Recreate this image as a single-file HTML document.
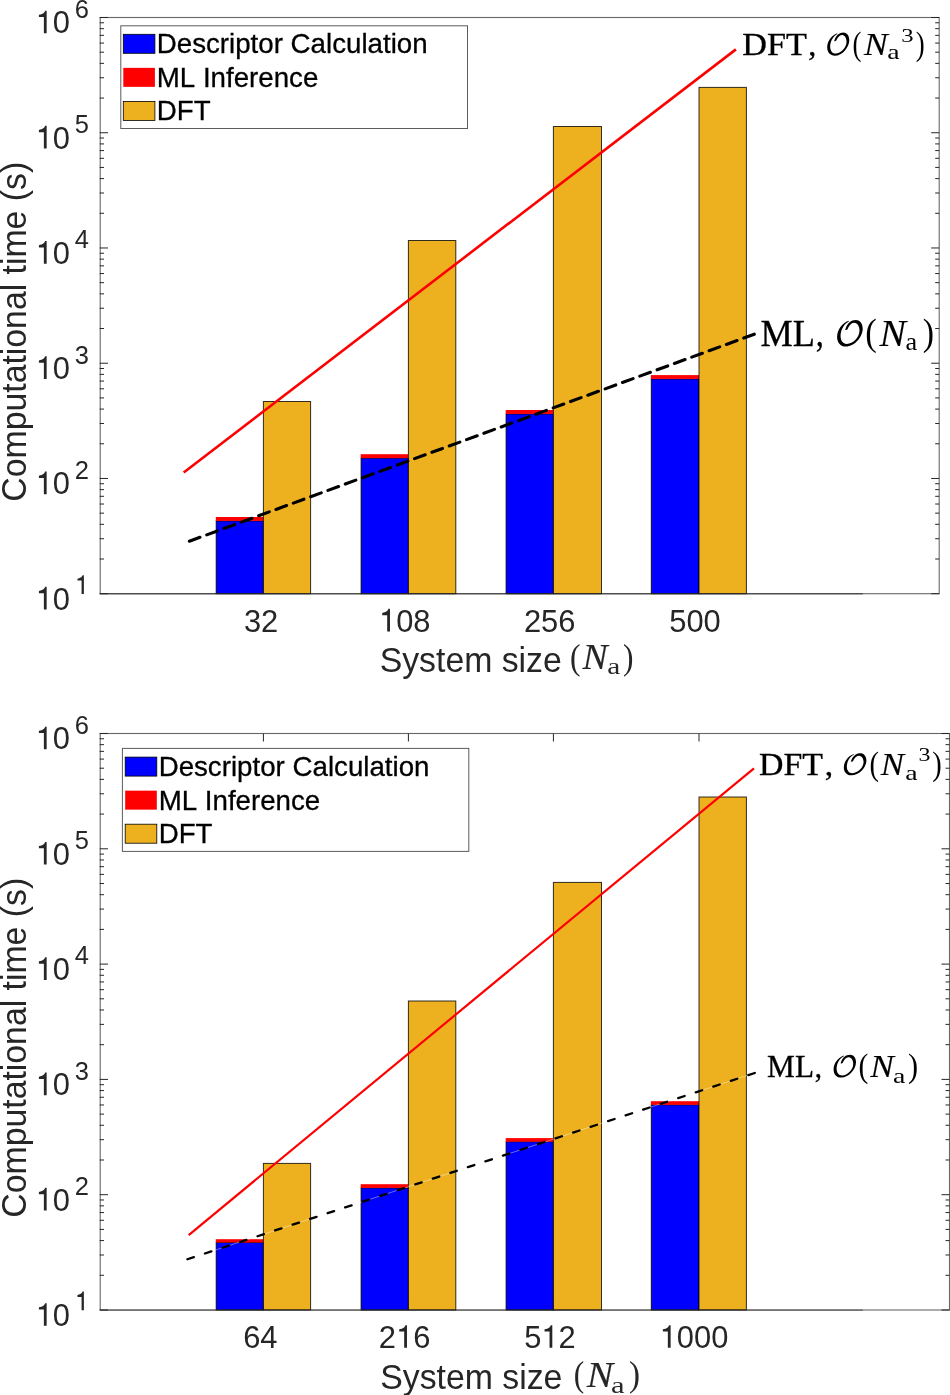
<!DOCTYPE html><html><head><meta charset="utf-8"><style>html,body{margin:0;padding:0;background:#fff;width:950px;height:1395px;overflow:hidden}text{font-kerning:none}</style></head><body><svg width="950" height="1395" viewBox="0 0 950 1395" style="position:absolute;left:0;top:0;will-change:transform">
<rect width="950" height="1395" fill="#fff"/>
<path d="M99.70 593.70h8.3M939.20 593.70h-8M99.70 559.01h4.3M939.20 559.01h-4M99.70 538.72h4.3M939.20 538.72h-4M99.70 524.32h4.3M939.20 524.32h-4M99.70 513.15h4.3M939.20 513.15h-4M99.70 504.03h4.3M939.20 504.03h-4M99.70 496.31h4.3M939.20 496.31h-4M99.70 489.63h4.3M939.20 489.63h-4M99.70 483.73h4.3M939.20 483.73h-4M99.70 478.46h8.3M939.20 478.46h-8M99.70 443.77h4.3M939.20 443.77h-4M99.70 423.48h4.3M939.20 423.48h-4M99.70 409.08h4.3M939.20 409.08h-4M99.70 397.91h4.3M939.20 397.91h-4M99.70 388.79h4.3M939.20 388.79h-4M99.70 381.07h4.3M939.20 381.07h-4M99.70 374.39h4.3M939.20 374.39h-4M99.70 368.49h4.3M939.20 368.49h-4M99.70 363.22h8.3M939.20 363.22h-8M99.70 328.53h4.3M939.20 328.53h-4M99.70 308.24h4.3M939.20 308.24h-4M99.70 293.84h4.3M939.20 293.84h-4M99.70 282.67h4.3M939.20 282.67h-4M99.70 273.55h4.3M939.20 273.55h-4M99.70 265.83h4.3M939.20 265.83h-4M99.70 259.15h4.3M939.20 259.15h-4M99.70 253.25h4.3M939.20 253.25h-4M99.70 247.98h8.3M939.20 247.98h-8M99.70 213.29h4.3M939.20 213.29h-4M99.70 193.00h4.3M939.20 193.00h-4M99.70 178.60h4.3M939.20 178.60h-4M99.70 167.43h4.3M939.20 167.43h-4M99.70 158.31h4.3M939.20 158.31h-4M99.70 150.59h4.3M939.20 150.59h-4M99.70 143.91h4.3M939.20 143.91h-4M99.70 138.01h4.3M939.20 138.01h-4M99.70 132.74h8.3M939.20 132.74h-8M99.70 98.05h4.3M939.20 98.05h-4M99.70 77.76h4.3M939.20 77.76h-4M99.70 63.36h4.3M939.20 63.36h-4M99.70 52.19h4.3M939.20 52.19h-4M99.70 43.07h4.3M939.20 43.07h-4M99.70 35.35h4.3M939.20 35.35h-4M99.70 28.67h4.3M939.20 28.67h-4M99.70 22.77h4.3M939.20 22.77h-4M99.70 17.50h8.3M939.20 17.50h-8" stroke="#262626" stroke-width="1" fill="none"/>
<rect x="216.2" y="520.9" width="47.20" height="72.80" fill="#0000ff" stroke="#000" stroke-width="1.0" stroke-opacity="0.85"/>
<rect x="215.80" y="517.0" width="47.60" height="3.90" fill="#ff0000"/>
<rect x="263.4" y="401.5" width="47.20" height="192.20" fill="#edb120" stroke="#000" stroke-width="1.0" stroke-opacity="0.8"/>
<rect x="361.1" y="458.1" width="47.30" height="135.60" fill="#0000ff" stroke="#000" stroke-width="1.0" stroke-opacity="0.85"/>
<rect x="360.70" y="454.2" width="47.70" height="3.90" fill="#ff0000"/>
<rect x="408.4" y="240.5" width="47.40" height="353.20" fill="#edb120" stroke="#000" stroke-width="1.0" stroke-opacity="0.8"/>
<rect x="506.1" y="413.9" width="47.30" height="179.80" fill="#0000ff" stroke="#000" stroke-width="1.0" stroke-opacity="0.85"/>
<rect x="505.70" y="410.0" width="47.70" height="3.90" fill="#ff0000"/>
<rect x="553.4" y="126.5" width="48.10" height="467.20" fill="#edb120" stroke="#000" stroke-width="1.0" stroke-opacity="0.8"/>
<rect x="651.3" y="378.9" width="47.70" height="214.80" fill="#0000ff" stroke="#000" stroke-width="1.0" stroke-opacity="0.85"/>
<rect x="650.90" y="375.1" width="48.10" height="3.80" fill="#ff0000"/>
<rect x="699.0" y="87.4" width="47.40" height="506.30" fill="#edb120" stroke="#000" stroke-width="1.0" stroke-opacity="0.8"/>
<rect x="100.2" y="17.5" width="839.00" height="576.20" fill="none" stroke="#262626" stroke-width="1.1" opacity="0.7"/>
<line x1="99.7" y1="593.8000000000001" x2="862.9" y2="593.8000000000001" stroke="#262626" stroke-width="1.4" opacity="0.55"/>
<line x1="183.7" y1="472.5" x2="735.9" y2="49.4" stroke="#ff0000" stroke-width="2.6"/>
<line x1="189.36" y1="541.18" x2="754.3" y2="334.2" stroke="#000" stroke-width="3.1" stroke-dasharray="11.3 7.15" stroke-linecap="round"/>
<path d="M43.87 609.50L46.66 609.50L46.66 586.83L45.08 586.83C44.62 588.71 43.07 590.31 38.90 590.95L38.90 593.25L43.87 593.25Z" fill="#262626"/>
<text transform="translate(52.84 609.50) scale(1 1.035)" font-family="'Liberation Sans', sans-serif" font-size="30.9" fill="#262626">0</text>
<path d="M81.58 594.00L83.88 594.00L83.88 575.29L82.58 575.29C82.19 576.84 80.92 578.16 77.48 578.69L77.48 580.59L81.58 580.59Z" fill="#262626"/>
<path d="M43.87 494.26L46.66 494.26L46.66 471.59L45.08 471.59C44.62 473.47 43.07 475.07 38.90 475.71L38.90 478.01L43.87 478.01Z" fill="#262626"/>
<text transform="translate(52.84 494.26) scale(1 1.035)" font-family="'Liberation Sans', sans-serif" font-size="30.9" fill="#262626">0</text>
<text transform="translate(74.80 478.76) scale(1 1.035)" font-family="'Liberation Sans', sans-serif" font-size="25.5" fill="#262626">2</text>
<path d="M43.87 379.02L46.66 379.02L46.66 356.35L45.08 356.35C44.62 358.23 43.07 359.83 38.90 360.47L38.90 362.77L43.87 362.77Z" fill="#262626"/>
<text transform="translate(52.84 379.02) scale(1 1.035)" font-family="'Liberation Sans', sans-serif" font-size="30.9" fill="#262626">0</text>
<text transform="translate(74.80 363.52) scale(1 1.035)" font-family="'Liberation Sans', sans-serif" font-size="25.5" fill="#262626">3</text>
<path d="M43.87 263.78L46.66 263.78L46.66 241.11L45.08 241.11C44.62 242.99 43.07 244.59 38.90 245.23L38.90 247.53L43.87 247.53Z" fill="#262626"/>
<text transform="translate(52.84 263.78) scale(1 1.035)" font-family="'Liberation Sans', sans-serif" font-size="30.9" fill="#262626">0</text>
<text transform="translate(74.80 248.28) scale(1 1.035)" font-family="'Liberation Sans', sans-serif" font-size="25.5" fill="#262626">4</text>
<path d="M43.87 148.54L46.66 148.54L46.66 125.87L45.08 125.87C44.62 127.75 43.07 129.35 38.90 129.99L38.90 132.29L43.87 132.29Z" fill="#262626"/>
<text transform="translate(52.84 148.54) scale(1 1.035)" font-family="'Liberation Sans', sans-serif" font-size="30.9" fill="#262626">0</text>
<text transform="translate(74.80 133.04) scale(1 1.035)" font-family="'Liberation Sans', sans-serif" font-size="25.5" fill="#262626">5</text>
<path d="M43.87 33.30L46.66 33.30L46.66 10.63L45.08 10.63C44.62 12.51 43.07 14.11 38.90 14.75L38.90 17.05L43.87 17.05Z" fill="#262626"/>
<text transform="translate(52.84 33.30) scale(1 1.035)" font-family="'Liberation Sans', sans-serif" font-size="30.9" fill="#262626">0</text>
<text transform="translate(74.80 17.80) scale(1 1.035)" font-family="'Liberation Sans', sans-serif" font-size="25.5" fill="#262626">6</text>
<text transform="translate(243.90 631.50) scale(1 1.035)" font-family="'Liberation Sans', sans-serif" font-size="30.9" fill="#262626">3</text>
<text transform="translate(261.09 631.50) scale(1 1.035)" font-family="'Liberation Sans', sans-serif" font-size="30.9" fill="#262626">2</text>
<path d="M387.19 631.50L389.97 631.50L389.97 608.83L388.40 608.83C387.93 610.71 386.39 612.31 382.22 612.95L382.22 615.25L387.19 615.25Z" fill="#262626"/>
<text transform="translate(396.15 631.50) scale(1 1.035)" font-family="'Liberation Sans', sans-serif" font-size="30.9" fill="#262626">0</text>
<text transform="translate(413.33 631.50) scale(1 1.035)" font-family="'Liberation Sans', sans-serif" font-size="30.9" fill="#262626">8</text>
<text transform="translate(523.89 631.50) scale(1 1.035)" font-family="'Liberation Sans', sans-serif" font-size="30.9" fill="#262626">2</text>
<text transform="translate(541.07 631.50) scale(1 1.035)" font-family="'Liberation Sans', sans-serif" font-size="30.9" fill="#262626">5</text>
<text transform="translate(558.25 631.50) scale(1 1.035)" font-family="'Liberation Sans', sans-serif" font-size="30.9" fill="#262626">6</text>
<text transform="translate(669.21 631.50) scale(1 1.035)" font-family="'Liberation Sans', sans-serif" font-size="30.9" fill="#262626">5</text>
<text transform="translate(686.39 631.50) scale(1 1.035)" font-family="'Liberation Sans', sans-serif" font-size="30.9" fill="#262626">0</text>
<text transform="translate(703.57 631.50) scale(1 1.035)" font-family="'Liberation Sans', sans-serif" font-size="30.9" fill="#262626">0</text>
<text transform="translate(25.9 331.75) rotate(-90) scale(1 1.05)" text-anchor="middle" font-family="'Liberation Sans', sans-serif" font-size="33.8" fill="#262626">Computational time (s)</text>
<path d="M99.70 1310.00h8.3M949.50 1310.00h-8M99.70 1275.29h4.3M949.50 1275.29h-4M99.70 1254.99h4.3M949.50 1254.99h-4M99.70 1240.58h4.3M949.50 1240.58h-4M99.70 1229.41h4.3M949.50 1229.41h-4M99.70 1220.28h4.3M949.50 1220.28h-4M99.70 1212.56h4.3M949.50 1212.56h-4M99.70 1205.87h4.3M949.50 1205.87h-4M99.70 1199.98h4.3M949.50 1199.98h-4M99.70 1194.70h8.3M949.50 1194.70h-8M99.70 1159.99h4.3M949.50 1159.99h-4M99.70 1139.69h4.3M949.50 1139.69h-4M99.70 1125.28h4.3M949.50 1125.28h-4M99.70 1114.11h4.3M949.50 1114.11h-4M99.70 1104.98h4.3M949.50 1104.98h-4M99.70 1097.26h4.3M949.50 1097.26h-4M99.70 1090.57h4.3M949.50 1090.57h-4M99.70 1084.68h4.3M949.50 1084.68h-4M99.70 1079.40h8.3M949.50 1079.40h-8M99.70 1044.69h4.3M949.50 1044.69h-4M99.70 1024.39h4.3M949.50 1024.39h-4M99.70 1009.98h4.3M949.50 1009.98h-4M99.70 998.81h4.3M949.50 998.81h-4M99.70 989.68h4.3M949.50 989.68h-4M99.70 981.96h4.3M949.50 981.96h-4M99.70 975.27h4.3M949.50 975.27h-4M99.70 969.38h4.3M949.50 969.38h-4M99.70 964.10h8.3M949.50 964.10h-8M99.70 929.39h4.3M949.50 929.39h-4M99.70 909.09h4.3M949.50 909.09h-4M99.70 894.68h4.3M949.50 894.68h-4M99.70 883.51h4.3M949.50 883.51h-4M99.70 874.38h4.3M949.50 874.38h-4M99.70 866.66h4.3M949.50 866.66h-4M99.70 859.97h4.3M949.50 859.97h-4M99.70 854.08h4.3M949.50 854.08h-4M99.70 848.80h8.3M949.50 848.80h-8M99.70 814.09h4.3M949.50 814.09h-4M99.70 793.79h4.3M949.50 793.79h-4M99.70 779.38h4.3M949.50 779.38h-4M99.70 768.21h4.3M949.50 768.21h-4M99.70 759.08h4.3M949.50 759.08h-4M99.70 751.36h4.3M949.50 751.36h-4M99.70 744.67h4.3M949.50 744.67h-4M99.70 738.78h4.3M949.50 738.78h-4M99.70 733.50h8.3M949.50 733.50h-8M263.40 733.50v8M263.40 1310.00v-8M408.40 733.50v8M408.40 1310.00v-8M553.40 733.50v8M553.40 1310.00v-8M699.00 733.50v8M699.00 1310.00v-8" stroke="#262626" stroke-width="1" fill="none"/>
<rect x="216.2" y="1242.5" width="47.20" height="67.50" fill="#0000ff" stroke="#000" stroke-width="1.0" stroke-opacity="0.85"/>
<rect x="215.80" y="1239.2" width="47.60" height="3.30" fill="#ff0000"/>
<rect x="263.4" y="1163.4" width="47.20" height="146.60" fill="#edb120" stroke="#000" stroke-width="1.0" stroke-opacity="0.8"/>
<rect x="361.1" y="1187.9" width="47.30" height="122.10" fill="#0000ff" stroke="#000" stroke-width="1.0" stroke-opacity="0.85"/>
<rect x="360.70" y="1184.2" width="47.70" height="3.70" fill="#ff0000"/>
<rect x="408.4" y="1001.0" width="47.40" height="309.00" fill="#edb120" stroke="#000" stroke-width="1.0" stroke-opacity="0.8"/>
<rect x="506.1" y="1141.7" width="47.30" height="168.30" fill="#0000ff" stroke="#000" stroke-width="1.0" stroke-opacity="0.85"/>
<rect x="505.70" y="1138.1" width="47.70" height="3.60" fill="#ff0000"/>
<rect x="553.4" y="882.4" width="48.10" height="427.60" fill="#edb120" stroke="#000" stroke-width="1.0" stroke-opacity="0.8"/>
<rect x="651.3" y="1104.8" width="47.70" height="205.20" fill="#0000ff" stroke="#000" stroke-width="1.0" stroke-opacity="0.85"/>
<rect x="650.90" y="1101.2" width="48.10" height="3.60" fill="#ff0000"/>
<rect x="699.0" y="797.0" width="47.40" height="513.00" fill="#edb120" stroke="#000" stroke-width="1.0" stroke-opacity="0.8"/>
<rect x="100.2" y="733.5" width="849.30" height="576.50" fill="none" stroke="#262626" stroke-width="1.1" opacity="0.7"/>
<line x1="99.7" y1="1310.1" x2="862.9" y2="1310.1" stroke="#262626" stroke-width="1.4" opacity="0.55"/>
<line x1="188.7" y1="1235.1" x2="754.0" y2="768.3" stroke="#ff0000" stroke-width="2.2"/>
<line x1="187.4" y1="1259.24" x2="754.8" y2="1072.97" stroke="#fff" stroke-width="0.8" opacity="0.5"/>
<line x1="187.4" y1="1259.24" x2="754.8" y2="1072.97" stroke="#000" stroke-width="2.3" stroke-dasharray="6.8 11.65" stroke-linecap="round"/>
<path d="M43.87 1325.80L46.66 1325.80L46.66 1303.13L45.08 1303.13C44.62 1305.01 43.07 1306.61 38.90 1307.25L38.90 1309.55L43.87 1309.55Z" fill="#262626"/>
<text transform="translate(52.84 1325.80) scale(1 1.035)" font-family="'Liberation Sans', sans-serif" font-size="30.9" fill="#262626">0</text>
<path d="M81.58 1310.30L83.88 1310.30L83.88 1291.59L82.58 1291.59C82.19 1293.14 80.92 1294.46 77.48 1294.99L77.48 1296.89L81.58 1296.89Z" fill="#262626"/>
<path d="M43.87 1210.50L46.66 1210.50L46.66 1187.83L45.08 1187.83C44.62 1189.71 43.07 1191.31 38.90 1191.95L38.90 1194.25L43.87 1194.25Z" fill="#262626"/>
<text transform="translate(52.84 1210.50) scale(1 1.035)" font-family="'Liberation Sans', sans-serif" font-size="30.9" fill="#262626">0</text>
<text transform="translate(74.80 1195.00) scale(1 1.035)" font-family="'Liberation Sans', sans-serif" font-size="25.5" fill="#262626">2</text>
<path d="M43.87 1095.20L46.66 1095.20L46.66 1072.53L45.08 1072.53C44.62 1074.41 43.07 1076.01 38.90 1076.65L38.90 1078.95L43.87 1078.95Z" fill="#262626"/>
<text transform="translate(52.84 1095.20) scale(1 1.035)" font-family="'Liberation Sans', sans-serif" font-size="30.9" fill="#262626">0</text>
<text transform="translate(74.80 1079.70) scale(1 1.035)" font-family="'Liberation Sans', sans-serif" font-size="25.5" fill="#262626">3</text>
<path d="M43.87 979.90L46.66 979.90L46.66 957.23L45.08 957.23C44.62 959.11 43.07 960.71 38.90 961.35L38.90 963.65L43.87 963.65Z" fill="#262626"/>
<text transform="translate(52.84 979.90) scale(1 1.035)" font-family="'Liberation Sans', sans-serif" font-size="30.9" fill="#262626">0</text>
<text transform="translate(74.80 964.40) scale(1 1.035)" font-family="'Liberation Sans', sans-serif" font-size="25.5" fill="#262626">4</text>
<path d="M43.87 864.60L46.66 864.60L46.66 841.93L45.08 841.93C44.62 843.81 43.07 845.41 38.90 846.05L38.90 848.35L43.87 848.35Z" fill="#262626"/>
<text transform="translate(52.84 864.60) scale(1 1.035)" font-family="'Liberation Sans', sans-serif" font-size="30.9" fill="#262626">0</text>
<text transform="translate(74.80 849.10) scale(1 1.035)" font-family="'Liberation Sans', sans-serif" font-size="25.5" fill="#262626">5</text>
<path d="M43.87 749.30L46.66 749.30L46.66 726.63L45.08 726.63C44.62 728.51 43.07 730.11 38.90 730.75L38.90 733.05L43.87 733.05Z" fill="#262626"/>
<text transform="translate(52.84 749.30) scale(1 1.035)" font-family="'Liberation Sans', sans-serif" font-size="30.9" fill="#262626">0</text>
<text transform="translate(74.80 733.80) scale(1 1.035)" font-family="'Liberation Sans', sans-serif" font-size="25.5" fill="#262626">6</text>
<text transform="translate(243.18 1347.80) scale(1 1.035)" font-family="'Liberation Sans', sans-serif" font-size="30.9" fill="#262626">6</text>
<text transform="translate(260.36 1347.80) scale(1 1.035)" font-family="'Liberation Sans', sans-serif" font-size="30.9" fill="#262626">4</text>
<path d="M404.19 1347.80L406.97 1347.80L406.97 1325.13L405.39 1325.13C404.93 1327.01 403.38 1328.61 399.21 1329.25L399.21 1331.55L404.19 1331.55Z" fill="#262626"/>
<text transform="translate(378.79 1347.80) scale(1 1.035)" font-family="'Liberation Sans', sans-serif" font-size="30.9" fill="#262626">2</text>
<text transform="translate(413.15 1347.80) scale(1 1.035)" font-family="'Liberation Sans', sans-serif" font-size="30.9" fill="#262626">6</text>
<path d="M549.53 1347.80L552.31 1347.80L552.31 1325.13L550.74 1325.13C550.28 1327.01 548.73 1328.61 544.56 1329.25L544.56 1331.55L549.53 1331.55Z" fill="#262626"/>
<text transform="translate(524.13 1347.80) scale(1 1.035)" font-family="'Liberation Sans', sans-serif" font-size="30.9" fill="#262626">5</text>
<text transform="translate(558.49 1347.80) scale(1 1.035)" font-family="'Liberation Sans', sans-serif" font-size="30.9" fill="#262626">2</text>
<path d="M667.84 1347.80L670.62 1347.80L670.62 1325.13L669.04 1325.13C668.58 1327.01 667.04 1328.61 662.86 1329.25L662.86 1331.55L667.84 1331.55Z" fill="#262626"/>
<text transform="translate(676.80 1347.80) scale(1 1.035)" font-family="'Liberation Sans', sans-serif" font-size="30.9" fill="#262626">0</text>
<text transform="translate(693.98 1347.80) scale(1 1.035)" font-family="'Liberation Sans', sans-serif" font-size="30.9" fill="#262626">0</text>
<text transform="translate(711.16 1347.80) scale(1 1.035)" font-family="'Liberation Sans', sans-serif" font-size="30.9" fill="#262626">0</text>
<text transform="translate(25.9 1047.75) rotate(-90) scale(1 1.05)" text-anchor="middle" font-family="'Liberation Sans', sans-serif" font-size="33.8" fill="#262626">Computational time (s)</text>
<text transform="translate(379.67 671.50) scale(1 1.03)" font-family="'Liberation Sans', sans-serif" font-size="33.8" fill="#262626">System size</text>
<text x="569.91" y="668.69" font-family="'Liberation Serif', serif" font-size="35.72" textLength="10.50" lengthAdjust="spacingAndGlyphs" fill="#262626">(</text>
<text x="582.58" y="668.80" font-family="'Liberation Serif', serif" font-size="35.42" font-style="italic" textLength="25.17" lengthAdjust="spacingAndGlyphs" fill="#262626" stroke="#262626" stroke-width="0.15">N</text>
<text x="607.27" y="674.37" font-family="'Liberation Serif', serif" font-size="22.96" textLength="13.03" lengthAdjust="spacingAndGlyphs" fill="#262626">a</text>
<text x="622.98" y="668.69" font-family="'Liberation Serif', serif" font-size="35.72" textLength="10.50" lengthAdjust="spacingAndGlyphs" fill="#262626">)</text>
<text transform="translate(380.27 1388.60) scale(1 1.03)" font-family="'Liberation Sans', sans-serif" font-size="33.8" fill="#262626">System size</text>
<text x="573.71" y="1385.64" font-family="'Liberation Serif', serif" font-size="35.94" textLength="10.50" lengthAdjust="spacingAndGlyphs" fill="#262626">(</text>
<text x="586.79" y="1386.50" font-family="'Liberation Serif', serif" font-size="35.88" font-style="italic" textLength="26.47" lengthAdjust="spacingAndGlyphs" fill="#262626" stroke="#262626" stroke-width="0.15">N</text>
<text x="611.12" y="1393.17" font-family="'Liberation Serif', serif" font-size="22.96" textLength="13.60" lengthAdjust="spacingAndGlyphs" fill="#262626">a</text>
<text x="629.03" y="1385.64" font-family="'Liberation Serif', serif" font-size="35.94" textLength="11.02" lengthAdjust="spacingAndGlyphs" fill="#262626">)</text>
<rect x="120.8" y="25.8" width="346.7" height="102.7" fill="#fff" stroke="#262626" stroke-width="1" stroke-opacity="0.75"/>
<rect x="123.3" y="34.30" width="31.6" height="19" fill="#0000ff" stroke="#000" stroke-width="0.8"/>
<text transform="translate(156.73 53.30) scale(1 1.03)" font-family="'Liberation Sans', sans-serif" font-size="27.7" fill="#000" stroke="#000" stroke-width="0.3">Descriptor Calculation</text>
<rect x="123.3" y="67.85" width="31.6" height="19" fill="#ff0000"/>
<text transform="translate(156.73 86.85) scale(1 1.03)" font-family="'Liberation Sans', sans-serif" font-size="27.7" fill="#000" stroke="#000" stroke-width="0.3">ML Inference</text>
<rect x="123.3" y="101.40" width="31.6" height="19" fill="#edb120" stroke="#000" stroke-width="0.8"/>
<text transform="translate(156.73 120.40) scale(1 1.03)" font-family="'Liberation Sans', sans-serif" font-size="27.7" fill="#000" stroke="#000" stroke-width="0.3">DFT</text>
<rect x="122.4" y="748.4" width="346.4" height="103.0" fill="#fff" stroke="#262626" stroke-width="1" stroke-opacity="0.75"/>
<rect x="125.2" y="757.10" width="31.6" height="19" fill="#0000ff" stroke="#000" stroke-width="0.8"/>
<text transform="translate(158.63 776.10) scale(1 1.03)" font-family="'Liberation Sans', sans-serif" font-size="27.7" fill="#000" stroke="#000" stroke-width="0.3">Descriptor Calculation</text>
<rect x="125.2" y="790.65" width="31.6" height="19" fill="#ff0000"/>
<text transform="translate(158.63 809.65) scale(1 1.03)" font-family="'Liberation Sans', sans-serif" font-size="27.7" fill="#000" stroke="#000" stroke-width="0.3">ML Inference</text>
<rect x="125.2" y="824.20" width="31.6" height="19" fill="#edb120" stroke="#000" stroke-width="0.8"/>
<text transform="translate(158.63 843.20) scale(1 1.03)" font-family="'Liberation Sans', sans-serif" font-size="27.7" fill="#000" stroke="#000" stroke-width="0.3">DFT</text>
<text x="742.22" y="55.00" font-family="'Liberation Serif', serif" font-size="32.52" textLength="64.55" lengthAdjust="spacingAndGlyphs" fill="#000" stroke="#000" stroke-width="0.3">DFT</text>
<text x="808.27" y="55.00" font-family="'Liberation Serif', serif" font-size="32.52" textLength="8.06" lengthAdjust="spacingAndGlyphs" fill="#000" stroke="#000" stroke-width="0.3">,</text>
<path d="M 837.15 33.31 C 831.62 35.28 827.20 41.32 827.20 47.35 C 827.20 52.68 830.52 55.70 834.71 55.70 C 842.67 55.70 849.30 46.88 849.30 40.16 C 849.30 35.28 846.65 32.50 843.33 32.50 C 839.36 32.50 836.04 35.28 834.49 40.16 L 834.16 41.08 C 834.71 41.55 835.82 41.32 836.26 40.62 C 837.59 37.60 839.58 35.05 841.79 35.05 C 844.44 35.05 846.54 37.60 846.54 41.78 C 846.54 47.58 840.90 53.38 835.60 53.50 C 832.06 53.50 830.18 50.60 830.18 46.42 C 830.18 40.62 833.83 35.52 837.37 33.89 Z" fill="#000"/>
<text x="852.42" y="55.01" font-family="'Liberation Serif', serif" font-size="33.3" textLength="8.95" lengthAdjust="spacingAndGlyphs" fill="#000">(</text>
<text x="864.06" y="54.60" font-family="'Liberation Serif', serif" font-size="31.91" font-style="italic" textLength="23.78" lengthAdjust="spacingAndGlyphs" fill="#000" stroke="#000" stroke-width="0.15">N</text>
<text x="887.32" y="59.48" font-family="'Liberation Serif', serif" font-size="21.71" textLength="12.36" lengthAdjust="spacingAndGlyphs" fill="#000">a</text>
<text x="901.22" y="41.62" font-family="'Liberation Serif', serif" font-size="18.15" textLength="12.35" lengthAdjust="spacingAndGlyphs" fill="#000">3</text>
<text x="915.83" y="55.01" font-family="'Liberation Serif', serif" font-size="33.3" textLength="8.95" lengthAdjust="spacingAndGlyphs" fill="#000">)</text>
<text x="760.55" y="345.80" font-family="'Liberation Serif', serif" font-size="37.25" textLength="54.42" lengthAdjust="spacingAndGlyphs" fill="#000" stroke="#000" stroke-width="0.3">ML</text>
<text x="815.77" y="345.80" font-family="'Liberation Serif', serif" font-size="37.25" textLength="8.06" lengthAdjust="spacingAndGlyphs" fill="#000" stroke="#000" stroke-width="0.3">,</text>
<path d="M 848.62 320.83 C 842.22 323.09 837.10 330.01 837.10 336.92 C 837.10 343.04 840.94 346.50 845.80 346.50 C 855.02 346.50 862.70 336.39 862.70 328.68 C 862.70 323.09 859.63 319.90 855.79 319.90 C 851.18 319.90 847.34 323.09 845.55 328.68 L 845.16 329.74 C 845.80 330.27 847.08 330.01 847.60 329.21 C 849.13 325.75 851.44 322.83 854.00 322.83 C 857.07 322.83 859.50 325.75 859.50 330.54 C 859.50 337.19 852.97 343.84 846.83 343.97 C 842.73 343.97 840.56 340.65 840.56 335.86 C 840.56 329.21 844.78 323.36 848.88 321.50 Z" fill="#000"/>
<text x="865.28" y="345.45" font-family="'Liberation Serif', serif" font-size="38.26" textLength="11.54" lengthAdjust="spacingAndGlyphs" fill="#000">(</text>
<text x="879.49" y="345.80" font-family="'Liberation Serif', serif" font-size="37.56" font-style="italic" textLength="26.47" lengthAdjust="spacingAndGlyphs" fill="#000" stroke="#000" stroke-width="0.15">N</text>
<text x="905.47" y="350.45" font-family="'Liberation Serif', serif" font-size="25.26" textLength="11.69" lengthAdjust="spacingAndGlyphs" fill="#000">a</text>
<text x="922.71" y="345.45" font-family="'Liberation Serif', serif" font-size="38.26" textLength="11.28" lengthAdjust="spacingAndGlyphs" fill="#000">)</text>
<text x="759.02" y="774.90" font-family="'Liberation Serif', serif" font-size="31.6" textLength="63.94" lengthAdjust="spacingAndGlyphs" fill="#000" stroke="#000" stroke-width="0.3">DFT</text>
<text x="824.72" y="774.90" font-family="'Liberation Serif', serif" font-size="31.6" textLength="8.39" lengthAdjust="spacingAndGlyphs" fill="#000" stroke="#000" stroke-width="0.3">,</text>
<path d="M 853.97 754.07 C 848.32 755.94 843.80 761.66 843.80 767.38 C 843.80 772.44 847.19 775.30 851.48 775.30 C 859.62 775.30 866.40 766.94 866.40 760.56 C 866.40 755.94 863.69 753.30 860.30 753.30 C 856.23 753.30 852.84 755.94 851.26 760.56 L 850.92 761.44 C 851.48 761.88 852.61 761.66 853.07 761.00 C 854.42 758.14 856.46 755.72 858.72 755.72 C 861.43 755.72 863.57 758.14 863.57 762.10 C 863.57 767.60 857.81 773.10 852.39 773.21 C 848.77 773.21 846.85 770.46 846.85 766.50 C 846.85 761.00 850.58 756.16 854.20 754.62 Z" fill="#000"/>
<text x="869.45" y="775.09" font-family="'Liberation Serif', serif" font-size="33.85" textLength="9.47" lengthAdjust="spacingAndGlyphs" fill="#000">(</text>
<text x="880.86" y="774.70" font-family="'Liberation Serif', serif" font-size="31.76" font-style="italic" textLength="23.23" lengthAdjust="spacingAndGlyphs" fill="#000" stroke="#000" stroke-width="0.15">N</text>
<text x="905.32" y="779.70" font-family="'Liberation Serif', serif" font-size="20.04" textLength="12.36" lengthAdjust="spacingAndGlyphs" fill="#000">a</text>
<text x="918.45" y="760.62" font-family="'Liberation Serif', serif" font-size="18.01" textLength="11.98" lengthAdjust="spacingAndGlyphs" fill="#000">3</text>
<text x="932.28" y="775.09" font-family="'Liberation Serif', serif" font-size="33.85" textLength="9.47" lengthAdjust="spacingAndGlyphs" fill="#000">)</text>
<text x="767.10" y="1076.70" font-family="'Liberation Serif', serif" font-size="31.3" textLength="46.88" lengthAdjust="spacingAndGlyphs" fill="#000" stroke="#000" stroke-width="0.3">ML</text>
<text x="814.80" y="1076.70" font-family="'Liberation Serif', serif" font-size="31.3" textLength="7.22" lengthAdjust="spacingAndGlyphs" fill="#000" stroke="#000" stroke-width="0.3">,</text>
<path d="M 843.68 1055.60 C 838.08 1057.54 833.60 1063.46 833.60 1069.39 C 833.60 1074.64 836.96 1077.60 841.22 1077.60 C 849.28 1077.60 856.00 1068.94 856.00 1062.32 C 856.00 1057.54 853.31 1054.80 849.95 1054.80 C 845.92 1054.80 842.56 1057.54 840.99 1062.32 L 840.66 1063.24 C 841.22 1063.69 842.34 1063.46 842.78 1062.78 C 844.13 1059.82 846.14 1057.31 848.38 1057.31 C 851.07 1057.31 853.20 1059.82 853.20 1063.92 C 853.20 1069.62 847.49 1075.32 842.11 1075.43 C 838.53 1075.43 836.62 1072.58 836.62 1068.48 C 836.62 1062.78 840.32 1057.76 843.90 1056.17 Z" fill="#000"/>
<text x="858.50" y="1077.39" font-family="'Liberation Serif', serif" font-size="33.85" textLength="9.85" lengthAdjust="spacingAndGlyphs" fill="#000">(</text>
<text x="870.16" y="1076.80" font-family="'Liberation Serif', serif" font-size="31.76" font-style="italic" textLength="23.60" lengthAdjust="spacingAndGlyphs" fill="#000" stroke="#000" stroke-width="0.15">N</text>
<text x="893.02" y="1082.60" font-family="'Liberation Serif', serif" font-size="20.46" textLength="12.36" lengthAdjust="spacingAndGlyphs" fill="#000">a</text>
<text x="908.12" y="1077.39" font-family="'Liberation Serif', serif" font-size="33.85" textLength="10.11" lengthAdjust="spacingAndGlyphs" fill="#000">)</text>
</svg></body></html>
